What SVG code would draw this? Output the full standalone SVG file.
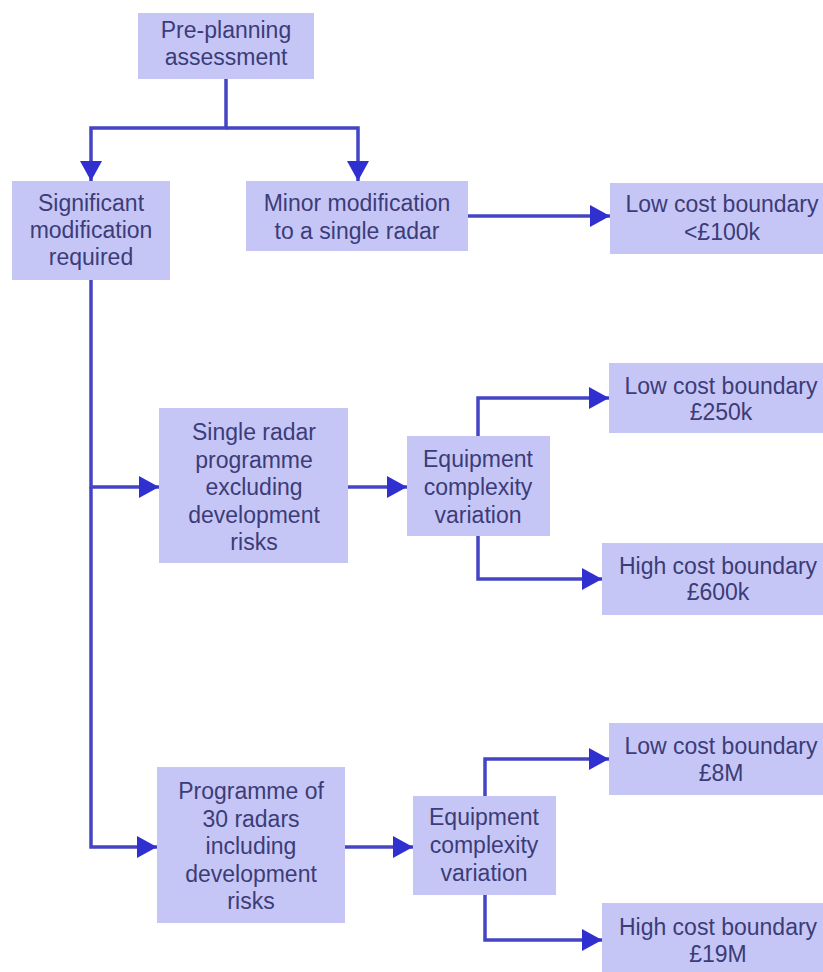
<svg xmlns="http://www.w3.org/2000/svg" width="823" height="972" viewBox="0 0 823 972">
<style>
.box{fill:#c6c6f6;}
.t{font-family:"Liberation Sans",Arial,sans-serif;font-size:23px;fill:#3c3c78;text-anchor:middle;}
.c{fill:none;stroke:#4444c4;stroke-width:3.5;marker-end:url(#ah);}
</style>
<defs>
<marker id="ah" markerUnits="userSpaceOnUse" markerWidth="20" markerHeight="22" refX="20" refY="11" orient="auto">
<path d="M0,0 L20,11 L0,22 Z" fill="#3030d0"/>
</marker>
</defs>
<rect width="823" height="972" fill="#ffffff"/>
<g id="connectors">
<path class="c" d="M226,79 V128 H91 V181"/>
<path class="c" d="M226,128 H358 V181"/>
<path class="c" d="M468,216 H610"/>
<path class="c" d="M91,280 V487 H159"/>
<path class="c" d="M91,487 V847 H157"/>
<path class="c" d="M348,487 H407"/>
<path class="c" d="M478,436 V398 H609"/>
<path class="c" d="M478,536 V579 H602"/>
<path class="c" d="M345,847 H413"/>
<path class="c" d="M485,796 V759 H609"/>
<path class="c" d="M485,895 V940 H602"/>
</g>
<g id="pre">
<rect class="box" x="138" y="13" width="176" height="66"/>
<text class="t" x="226" y="38">Pre-planning</text>
<text class="t" x="226" y="65">assessment</text>
</g>
<g id="significant">
<rect class="box" x="12" y="181" width="158" height="99"/>
<text class="t" x="91" y="211">Significant</text>
<text class="t" x="91" y="238">modification</text>
<text class="t" x="91" y="265">required</text>
</g>
<g id="minor">
<rect class="box" x="246" y="181" width="222" height="70"/>
<text class="t" x="357" y="211">Minor modification</text>
<text class="t" x="357" y="239">to a single radar</text>
</g>
<g id="low100">
<rect class="box" x="610" y="183" width="224" height="71"/>
<text class="t" x="722" y="212">Low cost boundary</text>
<text class="t" x="722" y="240">&lt;£100k</text>
</g>
<g id="single">
<rect class="box" x="159" y="408" width="189" height="155"/>
<text class="t" x="254" y="440">Single radar</text>
<text class="t" x="254" y="468">programme</text>
<text class="t" x="254" y="495">excluding</text>
<text class="t" x="254" y="523">development</text>
<text class="t" x="254" y="550">risks</text>
</g>
<g id="equip1">
<rect class="box" x="407" y="436" width="143" height="100"/>
<text class="t" x="478" y="467">Equipment</text>
<text class="t" x="478" y="495">complexity</text>
<text class="t" x="478" y="523">variation</text>
</g>
<g id="low250">
<rect class="box" x="609" y="363" width="224" height="70"/>
<text class="t" x="721" y="394">Low cost boundary</text>
<text class="t" x="721" y="420">£250k</text>
</g>
<g id="high600">
<rect class="box" x="602" y="543" width="232" height="72"/>
<text class="t" x="718" y="574">High cost boundary</text>
<text class="t" x="718" y="600">£600k</text>
</g>
<g id="programme">
<rect class="box" x="157" y="767" width="188" height="156"/>
<text class="t" x="251" y="799">Programme of</text>
<text class="t" x="251" y="827">30 radars</text>
<text class="t" x="251" y="854">including</text>
<text class="t" x="251" y="882">development</text>
<text class="t" x="251" y="909">risks</text>
</g>
<g id="equip2">
<rect class="box" x="413" y="796" width="143" height="99"/>
<text class="t" x="484" y="825">Equipment</text>
<text class="t" x="484" y="853">complexity</text>
<text class="t" x="484" y="881">variation</text>
</g>
<g id="low8m">
<rect class="box" x="609" y="723" width="224" height="72"/>
<text class="t" x="721" y="754">Low cost boundary</text>
<text class="t" x="721" y="781">£8M</text>
</g>
<g id="high19m">
<rect class="box" x="602" y="903" width="232" height="75"/>
<text class="t" x="718" y="935">High cost boundary</text>
<text class="t" x="718" y="962">£19M</text>
</g>
</svg>
